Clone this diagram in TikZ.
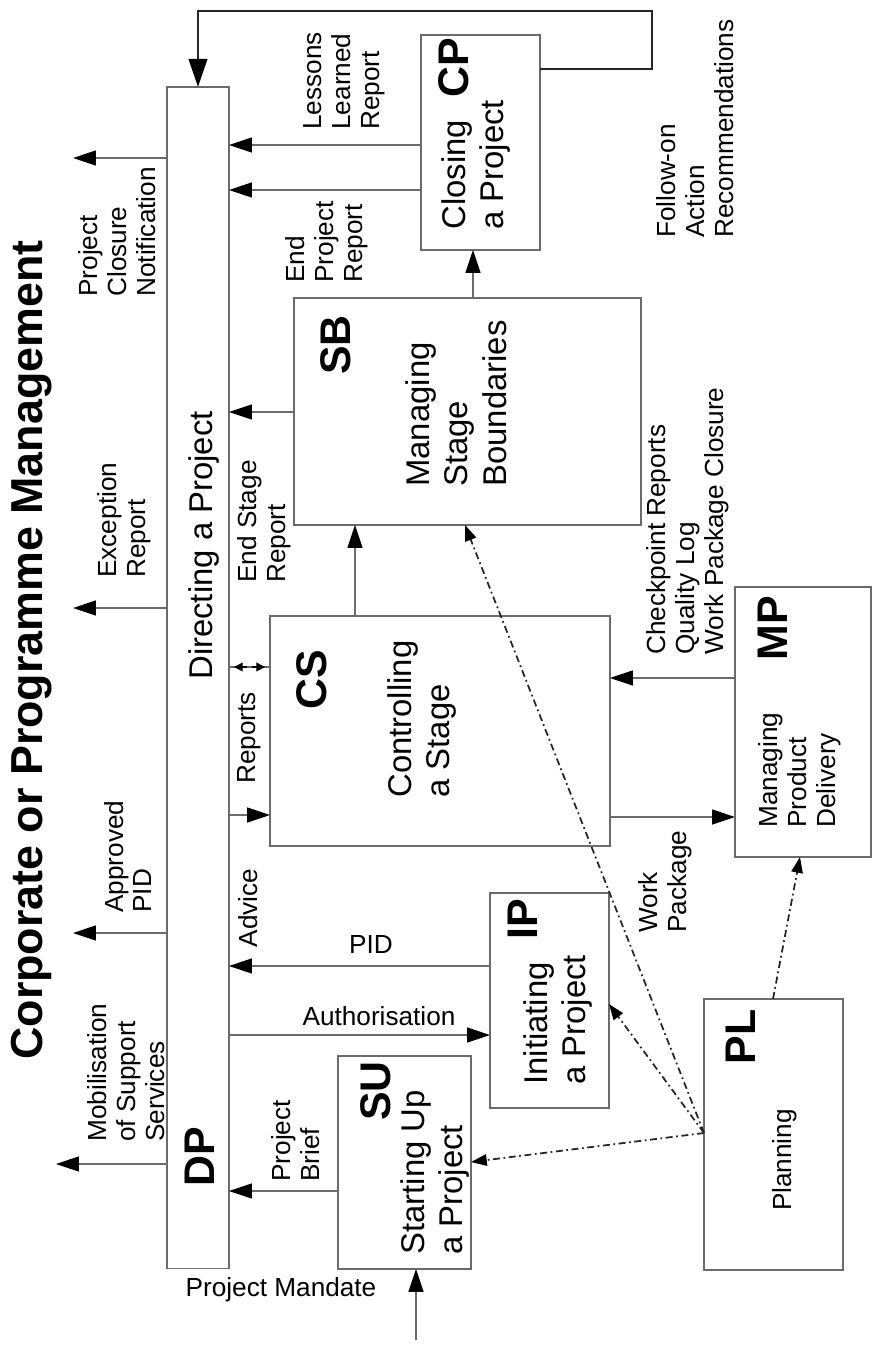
\documentclass[tikz,border=0pt]{standalone}
\usepackage{fontspec}
\setmainfont{Liberation Sans}
\usetikzlibrary{arrows.meta,calc}
\definecolor{ln}{gray}{0.42}
\newcommand{\lblsize}{\fontsize{14.9}{16.4}\selectfont}
\newcommand{\boxsize}{\fontsize{18.7}{22}\selectfont}
\newcommand{\codesize}{\fontsize{24.4}{28}\selectfont\bfseries}
\begin{document}
\begin{tikzpicture}[x=0.02cm,y=-0.02cm,
  box/.style={draw=ln,line width=0.8pt,fill=none,inner sep=0,outer sep=0,anchor=north west},
  arr/.style={draw=ln,line width=0.8pt,-{Triangle[length=13pt,width=8.5pt,color=black]}},
  thinline/.style={draw=ln,line width=0.8pt},
  smallarr/.style={line width=0.7pt,-{Triangle[length=5pt,width=5pt,color=black]}},
  looparr/.style={draw=black!85,line width=1.6pt,-{Triangle[length=16pt,width=10.5pt,color=black]}},
  dasharr/.style={draw=black!85,line width=1pt,dash pattern=on 4pt off 2pt on 1pt off 2pt,
    -{Triangle[length=9pt,width=6.5pt,color=black]}},
  lbl/.style={font=\lblsize,align=left,inner sep=0,rotate=90,anchor=west},
  boxtxt/.style={font=\boxsize,align=left,inner sep=0,rotate=90,anchor=west},
  code/.style={font=\codesize,inner sep=0,rotate=90},
  hlbl/.style={font=\lblsize,inner sep=0}]
\useasboundingbox (0,0) rectangle (873,1349);

% process boxes
\node[box,minimum width=1.24cm,minimum height=23.64cm] (dp) at (167,87) {};
\node[box,minimum width=2.38cm,minimum height=4.30cm] (cp) at (421,35) {};
\node[box,minimum width=6.94cm,minimum height=4.54cm] (sb) at (294,298) {};
\node[box,minimum width=6.80cm,minimum height=4.60cm] (cs) at (270,616) {};
\node[box,minimum width=2.72cm,minimum height=5.40cm] (mp) at (735,587) {};
\node[box,minimum width=2.38cm,minimum height=4.30cm] (ip) at (490,893) {};
\node[box,minimum width=2.66cm,minimum height=4.26cm] (su) at (338,1056) {};
\node[box,minimum width=2.78cm,minimum height=5.42cm] (pl) at (704,999) {};

% title
\node[rotate=90,font=\fontsize{25.5}{30}\selectfont\bfseries,inner sep=0] (title) at (32,650) {Corporate or Programme Management};

% box texts
\node[code] (cpc) at (454,68) {CP};
\node[boxtxt] (cpt) at (476,230) {Closing\\a Project};
\node[code] (sbc) at (336,345) {SB};
\node[boxtxt] (sbt) at (456,487) {Managing\\Stage\\Boundaries};
\node[code] (csc) at (312,680) {CS};
\node[boxtxt] (cst) at (422,798) {Controlling\\a Stage};
\node[code] (mpc) at (773,628) {MP};
\node[lbl] (mpt) at (800,828) {Managing\\Product\\Delivery};
\node[code] (ipc) at (523,919) {IP};
\node[boxtxt] (ipt) at (558,1085) {Initiating\\a Project};
\node[code] (suc) at (376,1091) {SU};
\node[boxtxt] (sut) at (435,1255) {Starting Up\\a Project};
\node[code] (plc) at (741,1037) {PL};
\node[lbl,anchor=center] (plt) at (785,1160) {Planning};
\node[code] (dpc) at (200,1157) {DP};
\node[boxtxt] (dpt) at (204,680) {Directing a Project};

% flow labels
\node[lbl] (l1) at (117,297) {Project\\Closure\\Notification};
\node[lbl] (l2) at (124,578) {Exception\\Report};
\node[lbl] (l3) at (128,913) {Approved\\PID};
\node[lbl] (l4) at (126,1142) {Mobilisation\\of Support\\Services};
\node[lbl] (l5) at (344,130) {Lessons\\Learned\\Report};
\node[lbl] (l6) at (327,283) {End\\Project\\Report};
\node[lbl] (l7) at (264,583) {End Stage\\Report};
\node[lbl,anchor=center] (l8) at (249,738) {Reports};
\node[lbl,anchor=center] (l9) at (248,908) {Advice};
\node[lbl] (l10) at (695,238) {Follow-on\\Action\\Recommendations};
\node[lbl] (l11) at (688,655) {Checkpoint Reports\\Quality Log\\Work Package Closure};
\node[lbl] (l12) at (665,933) {Work\\Package};
\node[lbl] (l13) at (296,1182) {Project\\Brief};
\node[hlbl] (l14) at (371,944) {PID};
\node[hlbl] (l15) at (379,1016) {Authorisation};
\node[hlbl] (l16) at (281,1290) {Project Mandate};

% free ends of the outgoing flows
\coordinate (o1) at (73,158);
\coordinate (o2) at (73,608);
\coordinate (o3) at (73,933);
\coordinate (o4) at (56,1164);
\coordinate (mand) at (416,1340);

% feedback loop from CP back to DP
\draw[looparr] (cp.east |- 0,69) -| (652,11) -| (dp.north);

% flows into DP
\draw[arr] (cp.west |- 0,145) -- (dp.east |- 0,145);
\draw[arr] (cp.west |- 0,190) -- (dp.east |- 0,190);
\draw[arr] (sb.west |- 0,412) -- (dp.east |- 0,412);
\draw[arr] (ip.west |- 0,966) -- (dp.east |- 0,966);
\draw[arr] (su.west |- 0,1191) -- (dp.east |- 0,1191);

% flows out of DP
\draw[arr] (dp.west |- o1) -- (o1);
\draw[arr] (dp.west |- o2) -- (o2);
\draw[arr] (dp.west |- o3) -- (o3);
\draw[arr] (dp.west |- o4) -- (o4);
\draw[arr] (dp.east |- 0,815) -- (cs.west |- 0,815);
\draw[arr] (dp.east |- 0,1035) -- (ip.west |- 0,1035);

% two-way reports between DP and CS
\coordinate (r1) at (dp.east |- 0,667);
\coordinate (r2) at (cs.west |- 0,667);
\draw[thinline] (r1) -- (r2);
\draw[smallarr] ($(r1)!0.45!(r2)$) -- ($(r1)!0.12!(r2)$);
\draw[smallarr] ($(r1)!0.55!(r2)$) -- ($(r1)!0.88!(r2)$);

% stage flows
\draw[arr] (cs.north -| 355,0) -- (sb.south -| 355,0);
\draw[arr] (sb.north -| 473,0) -- (cp.south -| 473,0);
\draw[arr] (mp.west |- 0,678) -- (cs.east |- 0,678);
\draw[arr] (cs.east |- 0,817) -- (mp.west |- 0,817);
\draw[arr] (mand) -- (su.south -| mand);

% planning links
\coordinate (plw) at (pl.west |- 0,1133);
\draw[dasharr] (plw) -- (sb.south -| 465,0);
\draw[dasharr] (plw) -- (ip.east |- 0,1004);
\draw[dasharr] (plw) -- (su.east |- 0,1162);
\draw[dasharr] (pl.north -| 773,0) -- (mp.south -| 800,0);
\end{tikzpicture}
\end{document}
